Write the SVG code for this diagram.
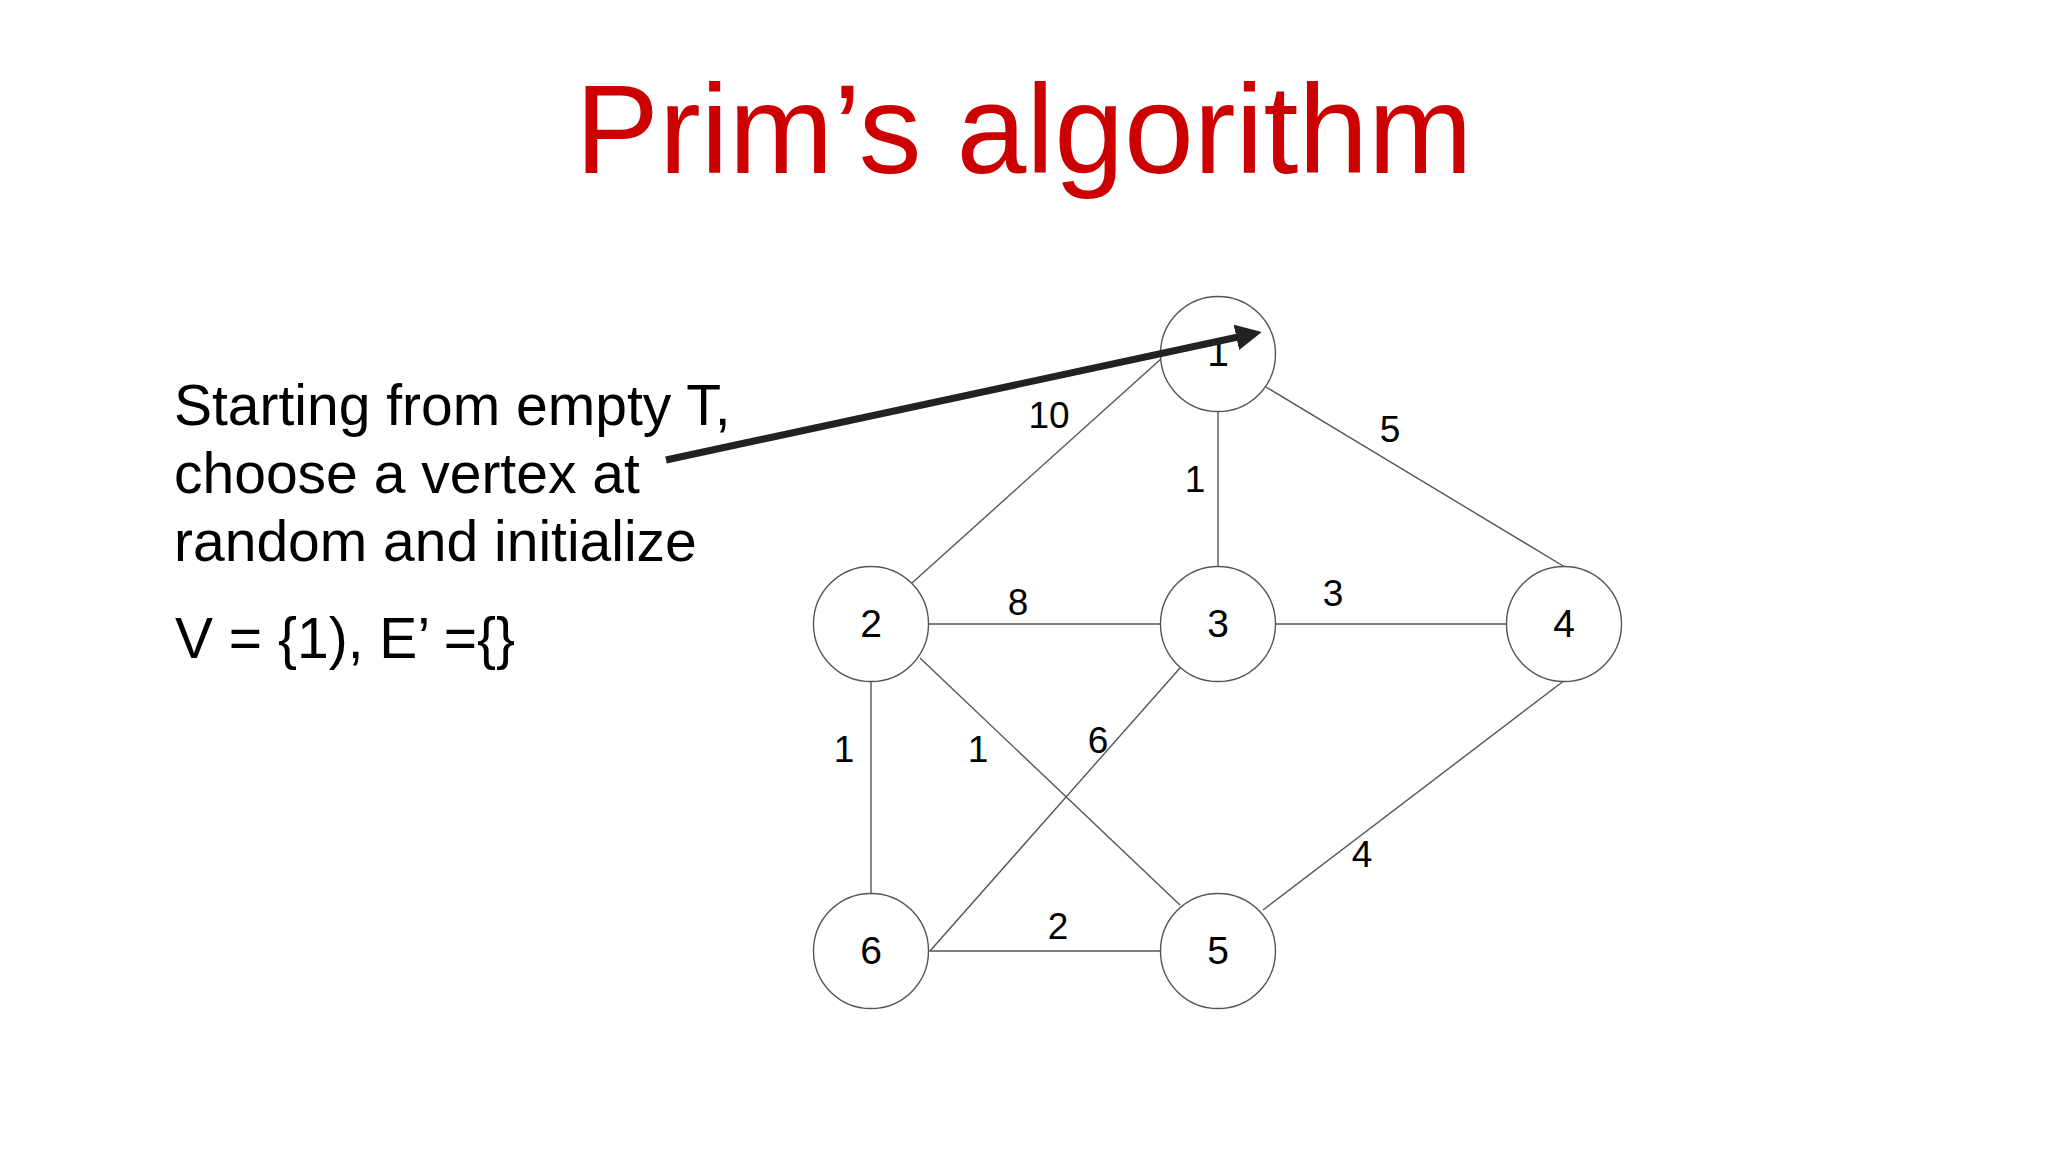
<svg xmlns="http://www.w3.org/2000/svg" width="2048" height="1152" viewBox="0 0 2048 1152">
  <style>
    .title { font-family: "Liberation Sans", Arial, sans-serif; font-size: 125.5px; fill: #CC0000; }
    .body { font-family: "Liberation Sans", Arial, sans-serif; font-size: 57px; fill: #000; }
    .node circle { fill: #fff; stroke: #555; stroke-width: 1.4; }
    .node text { font-family: "Liberation Sans", Arial, sans-serif; font-size: 39px; fill: #000; text-anchor: middle; }
    .edge { stroke: #555; stroke-width: 1.4; fill: none; }
    .elabel { font-family: "Liberation Sans", Arial, sans-serif; font-size: 37px; fill: #000; text-anchor: middle; }
  </style>
  <defs>
    <marker id="head" markerUnits="userSpaceOnUse" viewBox="0 0 26 26" markerWidth="26" markerHeight="26" refX="16" refY="13" orient="auto">
      <path d="M0,0 L26,13 L0,26 z" fill="#222"/>
    </marker>
  </defs>
  <rect width="2048" height="1152" fill="#fff"/>

  <text class="title" x="1024" y="173" text-anchor="middle">Prim’s algorithm</text>

  <g id="description">
    <text class="body" x="174" y="425">Starting from empty T,</text>
    <text class="body" x="174" y="493">choose a vertex at</text>
    <text class="body" x="174" y="561">random and initialize</text>
    <text class="body" x="175" y="658">V = {1), E’ ={}</text>
  </g>

  <g id="connectors">
    <line class="edge" x1="912" y1="583" x2="1162" y2="358"/>
    <line class="edge" x1="1218" y1="411.5" x2="1218" y2="566.5"/>
    <line class="edge" x1="1266" y1="387" x2="1564" y2="566.5"/>
    <line class="edge" x1="928.5" y1="624" x2="1160.5" y2="624"/>
    <line class="edge" x1="1275.5" y1="624" x2="1506.5" y2="624"/>
    <line class="edge" x1="920" y1="658" x2="1180" y2="905"/>
    <line class="edge" x1="1180" y1="668" x2="930" y2="951"/>
    <line class="edge" x1="871" y1="681.5" x2="871" y2="893.5"/>
    <line class="edge" x1="928.5" y1="951" x2="1160.5" y2="951"/>
    <line class="edge" x1="1563" y1="681.5" x2="1263" y2="910"/>
    <text class="elabel" x="1049" y="428">10</text>
    <text class="elabel" x="1195" y="492">1</text>
    <text class="elabel" x="1390" y="442">5</text>
    <text class="elabel" x="1018" y="615">8</text>
    <text class="elabel" x="1333" y="606">3</text>
    <text class="elabel" x="844" y="762">1</text>
    <text class="elabel" x="978" y="762">1</text>
    <text class="elabel" x="1098" y="753">6</text>
    <text class="elabel" x="1058" y="939">2</text>
    <text class="elabel" x="1362" y="867">4</text>
  </g>

  <g id="node1" class="node"><circle cx="1218" cy="354" r="57.5"/><text x="1218" y="366">1</text></g>
  <g id="node2" class="node"><circle cx="871" cy="624" r="57.5"/><text x="871" y="636.5">2</text></g>
  <g id="node3" class="node"><circle cx="1218" cy="624" r="57.5"/><text x="1218" y="636.5">3</text></g>
  <g id="node4" class="node"><circle cx="1564" cy="624" r="57.5"/><text x="1564" y="636.5">4</text></g>
  <g id="node5" class="node"><circle cx="1218" cy="951" r="57.5"/><text x="1218" y="963.5">5</text></g>
  <g id="node6" class="node"><circle cx="871" cy="951" r="57.5"/><text x="871" y="963.5">6</text></g>

  <g id="pointer-arrow">
    <line x1="666" y1="460" x2="1252" y2="334" stroke="#222" stroke-width="7" marker-end="url(#head)"/>
  </g>
</svg>
